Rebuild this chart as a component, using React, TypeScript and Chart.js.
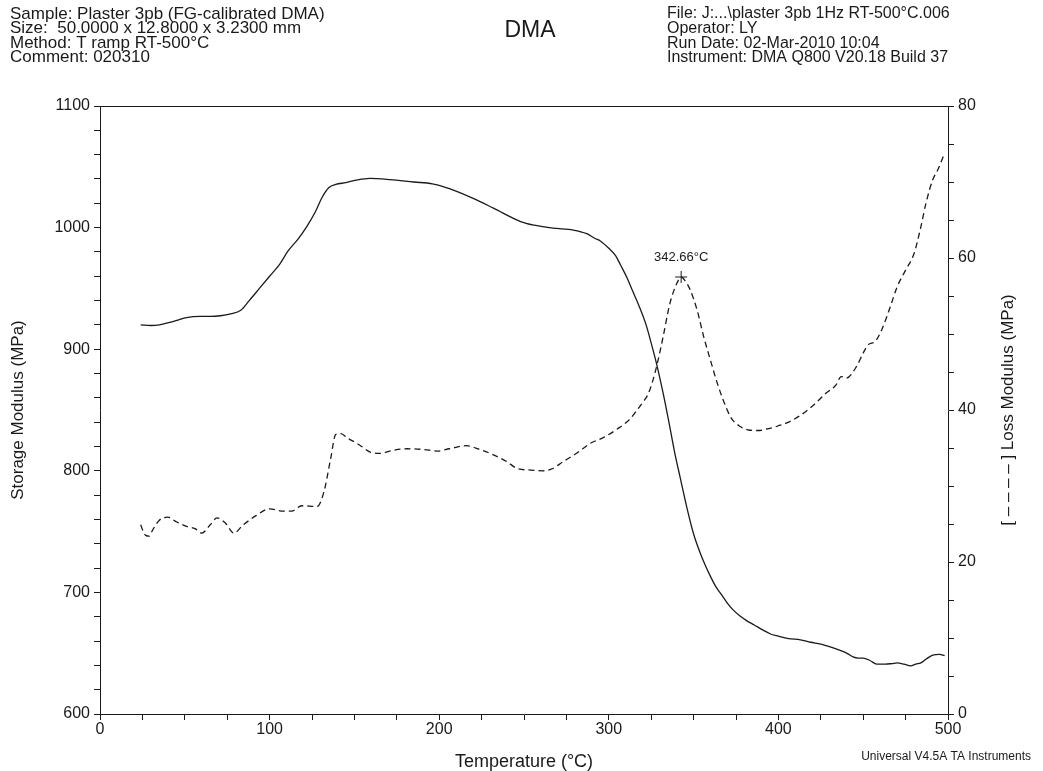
import React, { useEffect, useRef } from "react";
import { Chart, registerables } from "chart.js";

Chart.register(...registerables);

// ---- Header / labels ----
const headerLeft = [
  "Sample: Plaster 3pb (FG-calibrated DMA)",
  "Size:  50.0000 x 12.8000 x 3.2300 mm",
  "Method: T ramp RT-500°C",
  "Comment: 020310",
];
const headerRight = [
  "File: J:...\\plaster 3pb 1Hz RT-500°C.006",
  "Operator: LY",
  "Run Date: 02-Mar-2010 10:04",
  "Instrument: DMA Q800 V20.18 Build 37",
];
const chartTitle = "DMA";
const xTitle = "Temperature (°C)";
const yLeftTitle = "Storage Modulus (MPa)";
const yRightTitle = "[ – – – – ] Loss Modulus (MPa)";
const footer = "Universal V4.5A TA Instruments";

// ---- Storage modulus (solid, left axis) ----
const tempStorage = [
  24, 30, 35, 41, 46, 51, 59, 65, 71, 77, 83, 88, 94, 100, 106, 111, 117, 122,
  127, 131, 135, 139, 145, 151, 159, 171, 185, 196, 206, 220, 232, 248, 256,
  267, 279, 287, 292, 295, 300, 304, 307, 311, 314, 318, 322, 325, 328, 332,
  336, 339, 342, 346, 350, 354, 357, 360, 363, 366, 370, 373, 377, 381, 386,
  391, 395, 400, 406, 413, 419, 425, 431, 436, 441, 444, 447, 450, 454, 458,
  463, 467, 470, 474, 478, 481, 484, 487, 491, 495, 498,
];
const storageModulus = [
  920, 919.5, 920, 922, 924, 926, 927, 927, 927.5, 929, 932, 940, 950, 960,
  970, 981, 991, 1001, 1013, 1025, 1033, 1035.5, 1037, 1039, 1040.5, 1039.5,
  1037.5, 1036, 1032, 1024, 1016, 1005, 1002, 999.5, 998, 995, 991, 989, 983,
  977, 969, 958, 948, 935, 920, 905, 889, 864, 836, 814, 795, 770, 748, 732,
  722, 713, 705, 699, 691, 686, 681, 677, 673, 669, 666, 664, 662, 661, 659,
  657.5, 655, 652.5, 649.5, 647, 646, 646, 644, 641, 641, 641.5, 642, 641,
  639.5, 641, 642, 645, 648.5, 649, 648,
];

// ---- Loss modulus (dashed, right axis) ----
const tempLoss = [
  24, 25.5, 27, 29, 31, 35, 40, 45, 51, 56, 60, 65, 69, 74, 79, 84, 92, 100,
  108, 113, 119, 128, 132, 136, 139, 142, 146, 150, 153, 159, 165, 173, 181,
  191, 199, 206, 216, 224, 232, 240, 246, 254, 261, 267, 273, 281, 289, 297,
  305, 312, 316, 320, 323, 326, 329, 332, 336, 340, 342.66, 345, 348, 352,
  356, 360, 364, 368, 372, 377, 382, 388, 393, 397, 401, 405, 413, 421, 428,
  434, 437, 440, 446, 450, 453, 457, 461, 466, 470, 475, 480, 484, 487, 491,
  494, 498,
];
const lossModulus = [
  24.9, 24.0, 23.5, 23.4, 24.2, 25.5, 25.9, 25.3, 24.7, 24.4, 23.8, 24.9, 25.8,
  25.1, 23.8, 24.8, 26.1, 27.0, 26.7, 26.7, 27.4, 27.3, 29.2, 33.6, 36.8, 36.9,
  36.3, 35.8, 35.4, 34.5, 34.3, 34.7, 34.9, 34.8, 34.6, 34.9, 35.3, 34.8, 34.1,
  33.2, 32.3, 32.1, 32.0, 32.3, 33.2, 34.3, 35.6, 36.4, 37.5, 38.7, 39.8, 41.0,
  42.0, 43.9, 46.5, 49.6, 54.0, 56.6, 57.5, 57.0, 55.8, 53.2, 49.6, 46.5, 43.5,
  41.0, 39.0, 37.9, 37.4, 37.3, 37.5, 37.7, 38.0, 38.3, 39.3, 40.7, 42.2, 43.3,
  44.4, 44.2, 45.7, 47.5, 48.6, 49.0, 50.6, 53.6, 56.2, 58.4, 60.6, 64.1, 67.2,
  70.3, 71.6, 73.8,
];

// ---- Peak annotation ----
const peakTemp = [342.66];
const peakLoss = [57.5];
const peakLabel = ["342.66°C"];

// ---- Axis ranges ----
const xRange = [0, 500];
const xStep = 25;
const xLabelStep = 100;
const yLeftRange = [600, 1100];
const yLeftStep = 20;
const yLeftLabelStep = 100;
const yRightRange = [0, 80];
const yRightStep = 5;
const yRightLabelStep = 20;

const FONT = "'Liberation Sans', Arial, Helvetica, sans-serif";
const INK = "#1a1a1a";

const decorPlugin = {
  id: "decor",
  afterDraw(chart: any) {
    const { ctx, chartArea } = chart;
    ctx.save();
    // top frame line
    ctx.strokeStyle = INK;
    ctx.lineWidth = 1;
    ctx.beginPath();
    ctx.moveTo(chartArea.left, chartArea.top + 0.5);
    ctx.lineTo(chartArea.right, chartArea.top + 0.5);
    ctx.stroke();

    ctx.fillStyle = INK;
    ctx.textBaseline = "middle";
    ctx.textAlign = "left";
    ctx.font = `17px ${FONT}`;
    headerLeft.forEach((t, i) => ctx.fillText(t, 10, 14 + i * 14.6));
    ctx.font = `16px ${FONT}`;
    headerRight.forEach((t, i) => ctx.fillText(t, 667, 14 + i * 14.6));

    ctx.textAlign = "center";
    ctx.font = `23px ${FONT}`;
    ctx.fillText(chartTitle, 530, 31);

    // right axis title
    ctx.save();
    ctx.translate(1008, (chartArea.top + chartArea.bottom) / 2);
    ctx.rotate(-Math.PI / 2);
    ctx.font = `17px ${FONT}`;
    ctx.fillText(yRightTitle, 0, 0);
    ctx.restore();

    // peak label
    const meta = chart.getDatasetMeta(2);
    meta.data.forEach((pt: any, i: number) => {
      ctx.font = `13px ${FONT}`;
      ctx.textAlign = "center";
      ctx.fillText(peakLabel[i], pt.x, pt.y - 20);
    });

    // footer
    ctx.textAlign = "right";
    ctx.font = `12px ${FONT}`;
    ctx.fillText(footer, 1031, 757);
    ctx.restore();
  },
};

export default function App() {
  const ref = useRef<HTMLCanvasElement | null>(null);

  useEffect(() => {
    if (!ref.current) return;
    const tickFont = { family: FONT, size: 16 };
    const grid = {
      display: true,
      drawOnChartArea: false,
      drawTicks: true,
      tickLength: 6,
      color: INK,
      lineWidth: 1,
    };
    const chart = new Chart(ref.current, {
      type: "line",
      data: {
        datasets: [
          {
            label: "Storage Modulus",
            data: tempStorage.map((t, i) => ({ x: t, y: storageModulus[i] })),
            yAxisID: "y",
            borderColor: INK,
            borderWidth: 1.3,
            pointRadius: 0,
            cubicInterpolationMode: "monotone",
            fill: false,
          },
          {
            label: "Loss Modulus",
            data: tempLoss.map((t, i) => ({ x: t, y: lossModulus[i] })),
            yAxisID: "y1",
            borderColor: INK,
            borderWidth: 1.3,
            borderDash: [6, 4],
            pointRadius: 0,
            cubicInterpolationMode: "monotone",
            fill: false,
          },
          {
            label: "Peak",
            data: peakTemp.map((t, i) => ({ x: t, y: peakLoss[i] })),
            yAxisID: "y1",
            showLine: false,
            pointStyle: "cross",
            pointRadius: 6,
            borderColor: INK,
            backgroundColor: INK,
            borderWidth: 1,
          },
        ],
      },
      options: {
        responsive: false,
        animation: false,
        events: [],
        layout: { padding: { top: 106, left: 0, right: 0, bottom: 0 } },
        plugins: {
          legend: { display: false },
          tooltip: { enabled: false },
          title: { display: false },
        },
        scales: {
          x: {
            type: "linear",
            min: xRange[0],
            max: xRange[1],
            grid,
            border: { display: true, color: INK, width: 1 },
            ticks: {
              stepSize: xStep,
              autoSkip: false,
              maxRotation: 0,
              padding: 0,
              color: INK,
              font: tickFont,
              callback: (v: any) => (v % xLabelStep === 0 ? String(v) : ""),
            },
            title: {
              display: true,
              text: xTitle,
              color: INK,
              font: { family: FONT, size: 18 },
              padding: { top: 0, bottom: -2 },
            },
            afterFit: (s: any) => {
              s.height = 57;
            },
          },
          y: {
            type: "linear",
            position: "left",
            min: yLeftRange[0],
            max: yLeftRange[1],
            grid,
            border: { display: true, color: INK, width: 1 },
            ticks: {
              stepSize: yLeftStep,
              autoSkip: false,
              padding: 4,
              color: INK,
              font: tickFont,
              callback: (v: any) => (v % yLeftLabelStep === 0 ? String(v) : ""),
            },
            title: {
              display: true,
              text: yLeftTitle,
              color: INK,
              font: { family: FONT, size: 17 },
              padding: { top: 8, bottom: 0 },
            },
            afterFit: (s: any) => {
              s.width = 100;
            },
          },
          y1: {
            type: "linear",
            position: "right",
            min: yRightRange[0],
            max: yRightRange[1],
            grid,
            border: { display: true, color: INK, width: 1 },
            ticks: {
              stepSize: yRightStep,
              autoSkip: false,
              padding: 4,
              color: INK,
              font: tickFont,
              callback: (v: any) => (v % yRightLabelStep === 0 ? String(v) : ""),
            },
            afterFit: (s: any) => {
              s.width = 95;
            },
          },
        },
      },
      plugins: [decorPlugin],
    } as any);
    return () => chart.destroy();
  }, []);

  return (
    <div
      style={{
        position: "fixed",
        left: 0,
        top: 0,
        width: 1043,
        height: 771,
        background: "#fff",
      }}
    >
      <canvas ref={ref} width={1043} height={771} style={{ display: "block" }} />
    </div>
  );
}
